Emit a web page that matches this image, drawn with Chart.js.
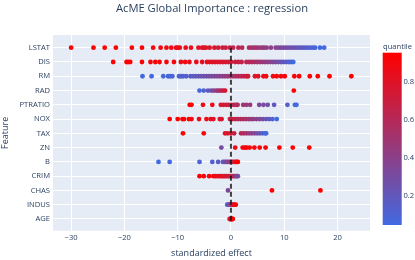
<!DOCTYPE html>
<html><head><meta charset="utf-8">
<script src="https://cdn.jsdelivr.net/npm/chart.js@4/dist/chart.umd.min.js"></script>
<style>html,body{margin:0;padding:0;background:#fff;overflow:hidden}</style>
</head><body>
<canvas id="c" width="415" height="260"></canvas>
<script>
// ---- data ----
const features = ['LSTAT','DIS','RM','RAD','PTRATIO','NOX','TAX','ZN','B','CRIM','CHAS','INDUS','AGE'];

const LSTAT_effect = [-30.0,-25.8,-23.7,-21.6,-18.6,-16.7,-14.6,-13.2,-12.1,-11.2,-10.3,-10.0,-9.6,-8.5,-7.5,-6.1,-5.4,-5.1,-4.7,-4.0,-3.1,-2.4,-1.6,-1.0,-0.2,0.4,1.4,2.1,3.4,3.9,4.4,4.8,5.3,5.8,6.2,6.7,7.5,8.4,8.9,9.4,9.9,10.4,10.9,11.4,11.9,12.4,12.9,13.4,13.9,14.4,14.9,15.4,15.8,16.7,17.5];
const LSTAT_quantile = [0.95,0.95,0.94,0.94,0.93,0.92,0.91,0.90,0.89,0.88,0.87,0.86,0.86,0.85,0.84,0.82,0.81,0.80,0.79,0.78,0.76,0.74,0.72,0.70,0.67,0.65,0.63,0.61,0.57,0.55,0.52,0.50,0.48,0.46,0.45,0.43,0.41,0.38,0.36,0.34,0.32,0.30,0.28,0.26,0.24,0.22,0.20,0.18,0.16,0.14,0.12,0.10,0.08,0.06,0.05];

const DIS_effect = [-22.1,-19.6,-19.3,-18.9,-16.7,-15.1,-14.2,-13.4,-12.1,-10.7,-9.4,-8.6,-7.8,-6.5,-5.4,-4.5,-4.0,-3.5,-3.0,-2.5,-2.0,-1.5,-1.0,-0.5,0.0,0.8,1.4,2.0,2.9,3.4,3.9,4.4,4.9,5.4,5.9,6.4,6.9,7.4,7.9,8.4,8.9,9.4,9.9,10.4,10.9,11.3,11.7];
const DIS_quantile = [0.95,0.95,0.94,0.94,0.93,0.92,0.92,0.91,0.90,0.89,0.88,0.87,0.86,0.85,0.83,0.82,0.81,0.80,0.79,0.78,0.77,0.76,0.75,0.73,0.72,0.70,0.68,0.66,0.63,0.61,0.59,0.56,0.54,0.51,0.48,0.45,0.42,0.39,0.36,0.32,0.28,0.24,0.20,0.16,0.12,0.08,0.05];

const RM_effect = [-16.6,-14.9,-12.7,-11.8,-11.4,-11.0,-9.75,-9.4,-9.0,-8.4,-7.6,-7.1,-6.6,-6.1,-5.6,-5.1,-4.6,-4.1,-3.6,-3.1,-2.6,-2.1,-1.6,-1.1,-0.6,-0.1,0.4,0.9,1.4,1.9,2.4,2.9,3.2,4.5,5.1,6.1,6.6,7.9,8.6,9.4,10.1,11.9,12.8,14.8,16.3,18.5,22.6];
const RM_quantile = [0.05,0.06,0.07,0.08,0.09,0.10,0.11,0.12,0.13,0.14,0.16,0.18,0.20,0.22,0.24,0.26,0.28,0.30,0.32,0.34,0.36,0.38,0.40,0.43,0.46,0.49,0.52,0.55,0.58,0.62,0.66,0.70,0.73,0.78,0.81,0.84,0.86,0.88,0.89,0.90,0.91,0.92,0.93,0.94,0.94,0.95,0.95];

const RAD_effect = [-5.9,-5.1,-4.3,-3.7,-3.2,-2.7,-2.3,-1.9,-1.5,-1.1,11.8];
const RAD_quantile = [0.05,0.12,0.20,0.28,0.36,0.44,0.52,0.60,0.68,0.76,0.95];

const PTRATIO_effect = [-7.75,-7.4,-5.25,-3.5,-1.9,-1.4,-0.9,-0.4,0.1,0.6,1.0,1.25,2.3,2.9,3.6,5.3,6.1,6.9,8.1,10.6,12.0,12.3];
const PTRATIO_quantile = [0.95,0.93,0.88,0.84,0.78,0.75,0.72,0.69,0.66,0.63,0.60,0.57,0.52,0.48,0.44,0.36,0.31,0.27,0.20,0.12,0.07,0.05];

const NOX_effect = [-11.5,-10.0,-9.1,-8.8,-7.9,-7.4,-6.0,-4.6,-3.8,-3.3,-2.1,-1.75,-0.2,0.3,0.8,1.3,1.8,2.3,2.8,3.3,3.8,4.2,4.8,5.4,6.0,6.6,7.2,7.8,8.6];
const NOX_quantile = [0.95,0.94,0.93,0.92,0.91,0.90,0.88,0.86,0.84,0.82,0.79,0.77,0.72,0.69,0.66,0.63,0.60,0.57,0.54,0.51,0.47,0.44,0.40,0.35,0.30,0.24,0.18,0.11,0.05];

const TAX_effect = [-9.0,-5.1,-1.1,-0.6,0.0,0.6,1.9,2.4,2.9,3.4,3.9,4.4,4.9,5.4,5.9,6.4,6.6];
const TAX_quantile = [0.95,0.90,0.82,0.78,0.74,0.70,0.62,0.57,0.52,0.47,0.42,0.36,0.30,0.23,0.16,0.09,0.05];

const ZN_effect = [-1.8,0.8,2.2,2.6,2.9,3.5,4.4,5.4,6.5,9.1,11.6,14.7];
const ZN_quantile = [0.30,0.85,0.90,0.91,0.92,0.92,0.93,0.93,0.94,0.94,0.95,0.95];

const B_effect = [-13.6,-11.5,-5.9,-3.5,-2.4,-1.5,-1.2,-0.9,-0.6,-0.25,0.0,0.3,0.6,0.9,1.1,1.3];
const B_quantile = [0.05,0.07,0.10,0.13,0.16,0.20,0.25,0.30,0.36,0.42,0.50,0.60,0.70,0.80,0.90,0.95];

const CRIM_effect = [-5.9,-5.1,-4.1,-3.3,-2.9,-2.5,-2.1,-1.8,-1.5,-1.2,-0.9,-0.6,-0.3,0.0,0.3,0.6,0.9,1.1,1.3];
const CRIM_quantile = [0.95,0.93,0.91,0.89,0.87,0.85,0.83,0.81,0.79,0.77,0.75,0.73,0.71,0.68,0.64,0.58,0.50,0.40,0.30];

const CHAS_effect = [-0.55,7.7,16.8];
const CHAS_quantile = [0.35,0.95,0.95];

const INDUS_effect = [-0.7,-0.5,-0.3,-0.1,0.1,0.3,0.5,0.7,0.9];
const INDUS_quantile = [0.10,0.20,0.30,0.40,0.50,0.60,0.75,0.85,0.95];

const AGE_effect = [-0.25,-0.1,0.0,0.1,0.2,0.35];
const AGE_quantile = [0.70,0.80,0.85,0.90,0.93,0.95];

const xTicks = [-30,-20,-10,0,10,20];
const colorbarTicks = [0.2,0.4,0.6,0.8];
const chartTitle = 'AcME Global Importance : regression';

// ---- assembly ----
const seriesEffects = [LSTAT_effect,DIS_effect,RM_effect,RAD_effect,PTRATIO_effect,NOX_effect,TAX_effect,ZN_effect,B_effect,CRIM_effect,CHAS_effect,INDUS_effect,AGE_effect];
const seriesQuant = [LSTAT_quantile,DIS_quantile,RM_quantile,RAD_quantile,PTRATIO_quantile,NOX_quantile,TAX_quantile,ZN_quantile,B_quantile,CRIM_quantile,CHAS_quantile,INDUS_quantile,AGE_quantile];
const allQ = [].concat(...seriesQuant);
const qMin = Math.min(...allQ), qMax = Math.max(...allQ);
const LOW = [65,105,225], HIGH = [255,0,0];
function qColor(q){
  const t = Math.max(0, Math.min(1, (q - qMin) / (qMax - qMin)));
  const c = LOW.map((l,i)=>Math.round(l + (HIGH[i]-l)*t));
  return `rgb(${c[0]},${c[1]},${c[2]})`;
}
const TXT = '#2a3f5f';
const FONT = "'Open Sans', sans-serif";

const datasets = features.map((f, i) => ({
  type: 'scatter',
  label: f,
  data: seriesEffects[i].map(v => ({x: v, y: i})),
  backgroundColor: seriesQuant[i].map(qColor),
  pointRadius: 2.4,
  pointBorderWidth: 0,
  pointHoverRadius: 2.4,
  order: 1
}));
datasets.push({
  type: 'line',
  label: 'zero',
  data: [{x: 0, y: 0}, {x: 0, y: 12.2}],
  borderColor: 'rgba(20,20,20,0.8)',
  borderWidth: 2,
  borderDash: [5, 3],
  pointRadius: 0,
  order: 0
});

const decor = {
  id: 'decor',
  beforeDraw(chart) {
    const {ctx, chartArea: a} = chart;
    ctx.save();
    ctx.fillStyle = '#E5ECF6';
    ctx.fillRect(a.left, a.top, a.right - a.left, a.bottom - a.top);
    ctx.restore();
  },
  afterDraw(chart) {
    const ctx = chart.ctx;
    ctx.save();
    // title
    ctx.fillStyle = TXT;
    ctx.font = `11.2px ${FONT}`;
    ctx.textAlign = 'center';
    ctx.textBaseline = 'middle';
    ctx.fillText(chartTitle, 212, 8.5);
    // colorbar
    const x0 = 382.7, y0 = 52.7, w = 19, h = 172.3;
    const g = ctx.createLinearGradient(0, y0 + h, 0, y0);
    g.addColorStop(0, qColor(qMin));
    g.addColorStop(0.5, qColor((qMin + qMax) / 2));
    g.addColorStop(1, qColor(qMax));
    ctx.fillStyle = g;
    ctx.fillRect(x0, y0, w, h);
    ctx.fillStyle = TXT;
    ctx.font = `7.6px ${FONT}`;
    ctx.textAlign = 'left';
    ctx.textBaseline = 'middle';
    colorbarTicks.forEach(t => {
      const y = y0 + h - (t - qMin) / (qMax - qMin) * h;
      ctx.fillText(String(t), 403.5, y);
    });
    ctx.fillText('quantile', 383, 46.5);
    ctx.restore();
  }
};

new Chart(document.getElementById('c'), {
  type: 'scatter',
  data: { datasets },
  options: {
    responsive: false,
    animation: false,
    devicePixelRatio: 1,
    layout: { padding: { left: 0, right: 45, top: 35, bottom: 0 } },
    plugins: {
      legend: { display: false },
      tooltip: { enabled: false },
      title: { display: false }
    },
    scales: {
      x: {
        type: 'linear',
        min: -33.4, max: 26.1,
        afterBuildTicks: s => { s.ticks = xTicks.map(v => ({value: v})); },
        afterFit: s => { s.height = 29.3; },
        ticks: {
          color: TXT, padding: 3,
          font: { family: FONT, size: 7.6 },
          callback: v => v < 0 ? '\u2212' + Math.abs(v) : String(v)
        },
        grid: { color: '#ffffff', lineWidth: 1, drawTicks: false },
        border: { display: false },
        title: { display: true, text: 'standardized effect', color: TXT,
                 font: { family: FONT, size: 9 }, padding: { top: 0, bottom: 1 } }
      },
      y: {
        type: 'linear',
        reverse: true,
        min: -0.89, max: 12.82,
        afterBuildTicks: s => { s.ticks = features.map((f, i) => ({value: i})); },
        afterFit: s => { s.width = 53; },
        ticks: {
          color: TXT, padding: 3,
          font: { family: FONT, size: 7.6 },
          callback: v => features[v]
        },
        grid: { color: '#ffffff', lineWidth: 1, drawTicks: false },
        border: { display: false },
        title: { display: true, text: 'Feature', color: TXT,
                 font: { family: FONT, size: 9 }, padding: { top: 0, bottom: 0 } }
      }
    }
  },
  plugins: [decor]
});
</script>
</body></html>
